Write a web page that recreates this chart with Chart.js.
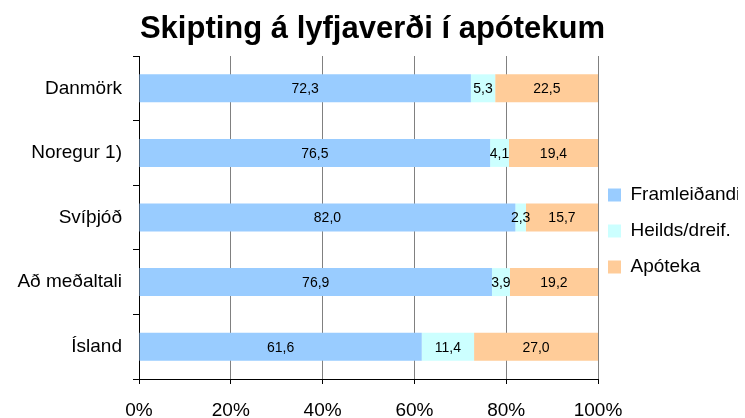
<!DOCTYPE html>
<html>
<head>
<meta charset="utf-8">
<script src="https://cdn.jsdelivr.net/npm/chart.js@4/dist/chart.umd.min.js"></script>
<style>
    body { margin: 0; background: #fff; }
    #wrap { width: 745px; height: 418px; }
</style>
</head>
<body>
<div id="wrap"><canvas id="chart-1" width="745" height="418"></canvas></div>
<script>
const categories = ['Danmörk', 'Noregur 1)', 'Svíþjóð', 'Að meðaltali', 'Ísland'];
const framleidandi = [72.3, 76.5, 82.0, 76.9, 61.6];
const heildsDreif = [5.3, 4.1, 2.3, 3.9, 11.4];
const apoteka = [22.5, 19.4, 15.7, 19.2, 27.0];
const xTicks = [0, 20, 40, 60, 80, 100];

const fontName = 'Arial, "Liberation Sans", sans-serif';

// labels inside each bar segment
const barValues = {
    id: 'barValues',
    afterDatasetsDraw(chart) {
        const ctx = chart.ctx;
        ctx.save();
        ctx.font = '14px ' + fontName;
        ctx.fillStyle = '#000';
        ctx.textAlign = 'center';
        ctx.textBaseline = 'middle';
        chart.data.datasets.forEach(function(ds, i) {
            chart.getDatasetMeta(i).data.forEach(function(bar, j) {
                const x = (bar.x + bar.base) / 2;
                ctx.fillText(ds.data[j].toFixed(1).replace('.', ','), x, bar.y + 1);
            });
        });
        ctx.restore();
    }
};

// pull the legend a bit closer to the plot
const legendShift = {
    id: 'legendShift',
    afterLayout(chart) {
        const lg = chart.legend;
        lg.left -= 7;
        lg.right -= 7;
        (lg.legendHitBoxes || []).forEach(function(h) { h.left -= 7; });
    }
};

const data = {
    labels: categories,
    datasets: [
        { label: 'Framleiðandi', data: framleidandi, backgroundColor: '#99CCFF' },
        { label: 'Heilds/dreif.', data: heildsDreif, backgroundColor: '#CCFFFF' },
        { label: 'Apóteka', data: apoteka, backgroundColor: '#FFCC99' }
    ]
};

const config = {
    type: 'bar',
    data: data,
    plugins: [barValues, legendShift],
    options: {
        indexAxis: 'y',
        responsive: false,
        animation: false,
        devicePixelRatio: 1,
        barPercentage: 0.433,
        categoryPercentage: 1,
        layout: { padding: 0 },
        scales: {
            x: {
                stacked: true,
                min: 0,
                max: 100,
                afterBuildTicks: function(scale) {
                    scale.ticks = xTicks.map(function(v) { return { value: v }; });
                },
                afterFit: function(scale) { scale.height = 39; },
                grid: { color: '#808080', lineWidth: 1, tickLength: 5, tickColor: '#000' },
                border: { color: '#000', width: 1 },
                ticks: {
                    color: '#000',
                    padding: 15,
                    maxRotation: 0,
                    font: { family: fontName, size: 19 },
                    callback: function(v) { return v + '%'; }
                }
            },
            y: {
                stacked: true,
                afterFit: function(scale) { scale.width = 139; },
                grid: { drawOnChartArea: false, offset: true, tickLength: 6, tickColor: '#000' },
                border: { color: '#000', width: 1 },
                ticks: {
                    color: '#000',
                    padding: 11,
                    font: { family: fontName, size: 19 }
                }
            }
        },
        plugins: {
            title: {
                display: true,
                text: 'Skipting á lyfjaverði í apótekum',
                color: '#000',
                font: { family: fontName, size: 31, weight: 'bold' },
                padding: { top: 11, bottom: 7.8 }
            },
            legend: {
                position: 'right',
                maxWidth: 147,
                title: { display: true, text: '', font: { size: 10 }, padding: { top: 32, bottom: 0 } },
                labels: {
                    color: '#000',
                    boxWidth: 13,
                    boxHeight: 13,
                    padding: 17,
                    font: { family: fontName, size: 19 }
                }
            },
            tooltip: { enabled: false }
        }
    }
};

const chart1 = new Chart(document.getElementById('chart-1'), config);
</script>
</body>
</html>
